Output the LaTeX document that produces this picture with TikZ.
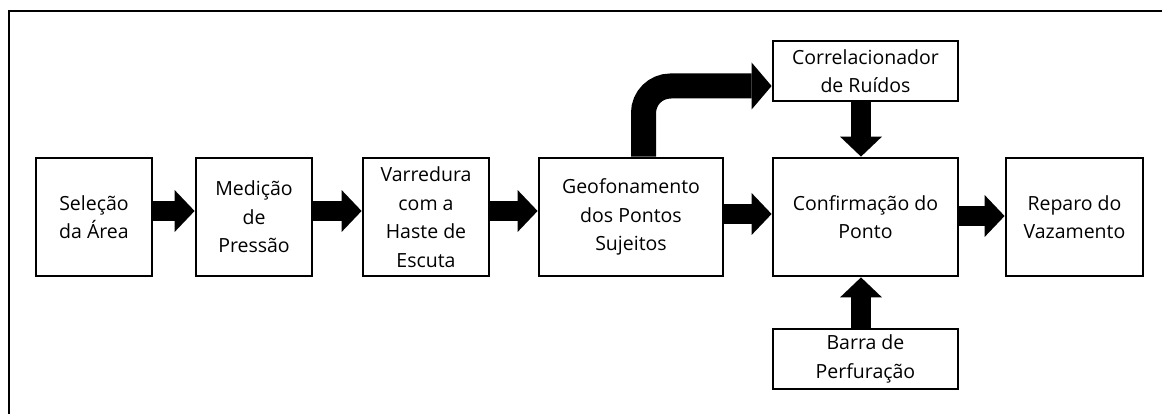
\documentclass[tikz,border=0pt]{standalone}
\usepackage{fontspec}
\setmainfont{Open Sans}
\usetikzlibrary{arrows.meta,calc}
\begin{document}
\begin{tikzpicture}[x=1pt,y=-1pt,
  box/.style={draw, line width=2.8pt, align=center, inner sep=0pt,
    font=\fontsize{19.5}{28.5}\selectfont},
  fat/.style={line width=20pt, -{Triangle[width=42pt,length=20pt,line width=0pt]}},
  fatc/.style={line width=25pt, rounded corners=27pt, -{Triangle[width=47pt,length=20pt,line width=0pt]}}]
\useasboundingbox (0,0) rectangle (1162,414);
\draw[line width=2pt] (9,420) -- (9,11) -- (1170,11);
\node[box, minimum width=116pt, minimum height=118pt] (b1) at (94,217) {Seleção\\da Área};
\node[box, minimum width=116pt, minimum height=118pt] (b2) at (254,217) {Medição\\de\\Pressão};
\node[box, minimum width=126pt, minimum height=118pt] (b3) at (426,217) {Varredura\\com a\\Haste de\\Escuta};
\node[box, minimum width=184pt, minimum height=118pt] (b4) at (631,217) {Geofonamento\\dos Pontos\\Sujeitos};
\node[box, minimum width=185pt, minimum height=118pt] (b5) at (865.5,217) {Confirmação do\\Ponto};
\node[box, minimum width=137pt, minimum height=118pt] (b6) at (1074.5,217) {Reparo do\\Vazamento};
\node[box, minimum width=185pt, minimum height=60pt] (b7) at (865.5,71) {Correlacionador\\de Ruídos};
\node[box, minimum width=185pt, minimum height=60pt] (b8) at (865.5,359) {Barra de\\Perfuração};
\draw[fat] ([yshift=6pt]b1.east) -- ([yshift=6pt]b2.west);
\draw[fat] ([yshift=6pt]b2.east) -- ([yshift=6pt]b3.west);
\draw[fat] ([yshift=6pt]b3.east) -- ([yshift=6pt]b4.west);
\draw[fat] ([yshift=3pt]b4.east) -- ([yshift=3pt]b5.west);
\draw[fat] ([yshift=1pt]b5.east) -- ([yshift=1pt]b6.west);
\draw[fatc] ([xshift=12.5pt]b4.north) |- ([yshift=-15pt]b7.west);
\draw[fat] ([xshift=-4.5pt]b7.south) -- ([xshift=-4.5pt]b5.north);
\draw[fat] ([xshift=-4.5pt]b8.north) -- ([xshift=-4.5pt]b5.south);
\end{tikzpicture}
\end{document}
